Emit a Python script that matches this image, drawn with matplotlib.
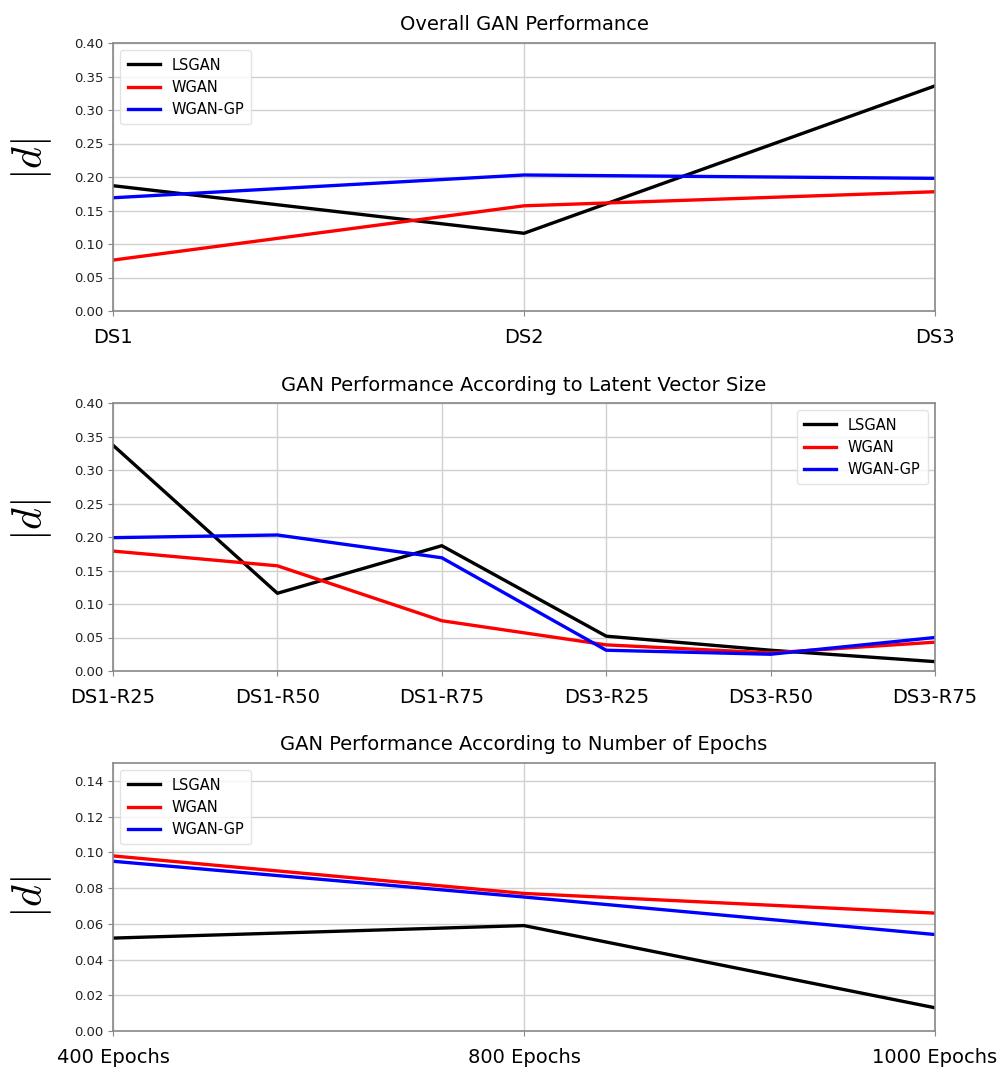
import matplotlib
matplotlib.use("Agg")
import matplotlib.pyplot as plt

plt.rcParams["mathtext.fontset"] = "cm"

models = ["LSGAN", "WGAN", "WGAN-GP"]
colors = ["black", "red", "blue"]

# Panel 1: overall performance per dataset
overall_x = ["DS1", "DS2", "DS3"]
overall_lsgan = [0.187, 0.116, 0.336]
overall_wgan = [0.076, 0.157, 0.178]
overall_wgangp = [0.169, 0.203, 0.198]

# Panel 2: latent vector size
latent_x = ["DS1-R25", "DS1-R50", "DS1-R75", "DS3-R25", "DS3-R50", "DS3-R75"]
latent_lsgan = [0.337, 0.116, 0.187, 0.052, 0.031, 0.014]
latent_wgan = [0.179, 0.157, 0.075, 0.039, 0.027, 0.043]
latent_wgangp = [0.199, 0.203, 0.169, 0.031, 0.025, 0.050]

# Panel 3: number of epochs
epoch_x = ["400 Epochs", "800 Epochs", "1000 Epochs"]
epoch_lsgan = [0.052, 0.059, 0.013]
epoch_wgan = [0.098, 0.077, 0.066]
epoch_wgangp = [0.095, 0.075, 0.054]

panels = [
    ("Overall GAN Performance", overall_x,
     [overall_lsgan, overall_wgan, overall_wgangp], 0.40, 0.05, "upper left", 0.565),
    ("GAN Performance According to Latent Vector Size", latent_x,
     [latent_lsgan, latent_wgan, latent_wgangp], 0.40, 0.05, "upper right", 0.563),
    ("GAN Performance According to Number of Epochs", epoch_x,
     [epoch_lsgan, epoch_wgan, epoch_wgangp], 0.15, 0.02, "upper left", 0.50),
]

fig = plt.figure(figsize=(9.99, 10.68), dpi=100)
W, H = 999, 1068
left, right = 113, 935
tops = [43, 403, 763]
height = 268

for (title, xs, series, ymax, ystep, loc, label_y), top in zip(panels, tops):
    ax = fig.add_axes([left / W, 1 - (top + height) / H, (right - left) / W, height / H])
    pos = list(range(len(xs)))
    for name, col, vals in zip(models, colors, series):
        ax.plot(pos, vals, color=col, lw=2.4, label=name)
    ax.set_xlim(0, len(xs) - 1)
    ax.set_ylim(0, ymax)
    n = int(round(ymax / ystep))
    ticks = [round(i * ystep, 2) for i in range(n + 1) if i * ystep <= ymax + 1e-9]
    ax.set_yticks(ticks)
    ax.set_yticklabels([f"{t:.2f}" for t in ticks], fontsize=9.5, color="#222222")
    ax.set_xticks(pos)
    ax.set_xticklabels(xs, fontsize=14)
    ax.tick_params(axis="x", pad=9, color="#888888")
    ax.tick_params(axis="y", color="#888888")
    ax.grid(True, color="#d0d0d0", lw=1.0)
    ax.set_axisbelow(True)
    for s in ax.spines.values():
        s.set_color("#888888")
        s.set_linewidth(1.2)
    ax.set_title(title, fontsize=14, pad=9)
    ax.set_ylabel("$|d|$", fontsize=30)
    ax.yaxis.set_label_coords(-0.072, label_y)
    ax.legend(loc=loc, fontsize=10.5, framealpha=0.8, edgecolor="#dddddd",
              handlelength=2.2, borderpad=0.5)

fig.savefig("out.png", dpi=100)
